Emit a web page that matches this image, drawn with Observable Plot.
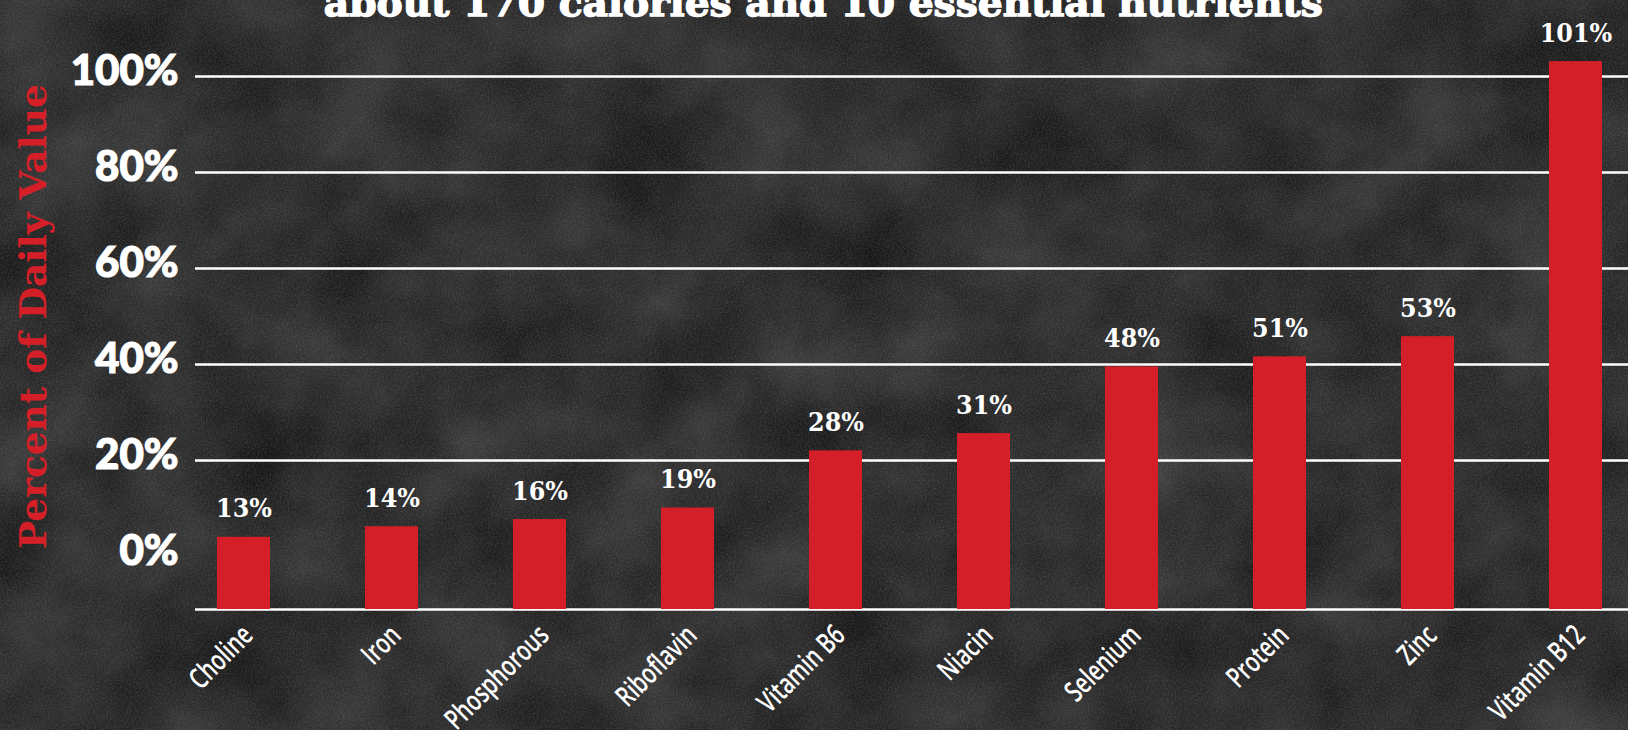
<!DOCTYPE html>
<html><head><meta charset="utf-8">
<script src="https://cdn.jsdelivr.net/npm/d3@7"></script>
<script src="https://cdn.jsdelivr.net/npm/@observablehq/plot@0.6"></script>
<style>
html,body{margin:0;padding:0;width:1628px;height:730px;overflow:hidden;background:#2a2a2a;}
#bg{position:absolute;left:0;top:0;width:1628px;height:730px;}
#chart{position:absolute;left:0;top:0;}
#title{position:absolute;left:0;top:-16px;width:1628px;text-align:center;font-family:"DejaVu Serif";font-weight:bold;font-size:38px;line-height:38px;color:#fff;white-space:nowrap;-webkit-text-stroke:1.4px #fff;}
#title span{display:inline-block;transform-origin:50% 50%;}
</style></head><body>
<div id="bg"></div>
<div id="chart"></div>
<div id="title"><span></span></div>
<script>
const title = "about 170 calories and 10 essential nutrients";
const yTitle = "Percent of Daily Value";
const nutrients = ["Choline","Iron","Phosphorous","Riboflavin","Vitamin B6","Niacin","Selenium","Protein","Zinc","Vitamin B12"];
const valueLabels = ["13%","14%","16%","19%","28%","31%","48%","51%","53%","101%"];
// bar tops as read against the printed percentage axis
const barTops = [4.0, 6.2, 7.7, 10.1, 22.0, 25.6, 39.5, 41.6, 45.8, 103.1];
// bars and the bottom rule sit below the printed 0% label
const barBase = -11.04;
const yTicks = [0, 20, 40, 60, 80, 100];
const gridTicks = [20, 40, 60, 80, 100];

// background stone texture (inline SVG noise, no network)
const noiseSvg = `<svg xmlns='http://www.w3.org/2000/svg' width='1628' height='730'>
<filter id='a' x='0' y='0' width='100%' height='100%' color-interpolation-filters='sRGB'><feTurbulence type='fractalNoise' baseFrequency='0.01' numOctaves='7' seed='11'/>
<feColorMatrix type='matrix' values='0.2 0 0 0 0.068 0.2 0 0 0 0.068 0.2 0 0 0 0.068 0 0 0 0 1'/></filter>
<filter id='b' x='0' y='0' width='100%' height='100%' color-interpolation-filters='sRGB'><feTurbulence type='fractalNoise' baseFrequency='0.6' numOctaves='3' seed='3'/>
<feColorMatrix type='matrix' values='0 0 0 0 0.55 0 0 0 0 0.55 0 0 0 0 0.55 0.45 0 0 0 -0.16'/></filter>
<rect width='1628' height='730' filter='url(#a)'/>
<rect width='1628' height='730' filter='url(#b)'/>
</svg>`;
document.getElementById("bg").style.backgroundImage =
  `url("data:image/svg+xml,${encodeURIComponent(noiseSvg)}")`;

const data = nutrients.map((n, i) => ({nutrient: n, top: barTops[i], label: valueLabels[i]}));
const red = "#d51f28";

const chart = Plot.plot({
  width: 1628,
  height: 730,
  marginLeft: 195,
  marginRight: 0,
  marginTop: 0,
  marginBottom: 121,
  style: {background: "transparent", overflow: "visible", color: "#fff"},
  x: {type: "band", domain: nutrients, range: [195, 1624], paddingInner: 0.642, paddingOuter: 0.1417, axis: null},
  y: {domain: [barBase, 115.83], axis: null},
  marks: [
    Plot.gridY(gridTicks, {stroke: "#fff", strokeOpacity: 1, strokeWidth: 2.5}),
    Plot.ruleY([barBase], {stroke: "#fff", strokeWidth: 2.5}),
    Plot.barY(data, {x: "nutrient", y1: barBase, y2: "top", fill: red}),
    Plot.axisY(yTicks, {anchor: "left", tickSize: 0, tickPadding: 17, tickFormat: d => d + "%",
      fontSize: 42, fontWeight: 900, fontFamily: "Lato", color: "#fff", dy: -5, label: null}),
    Plot.text(data, {x: "nutrient", y: "top", text: "label", dy: -20, lineAnchor: "bottom",
      fill: "#fff", fontSize: 26.5, fontWeight: "bold", fontFamily: "DejaVu Serif Condensed"}),
    Plot.text(data, {x: "nutrient", y: barBase, text: "nutrient", rotate: -45, textAnchor: "end", lineAnchor: "top",
      dx: -4, dy: 13, fill: "#fff", fontSize: 29, fontWeight: 600, fontFamily: "Open Sans"}),
    Plot.text([yTitle], {frameAnchor: "left", dx: -150, dy: 11.5, rotate: -90, lineAnchor: "bottom", textAnchor: "middle",
      fill: red, fontSize: 37.5, fontWeight: "bold", fontFamily: "DejaVu Serif"})
  ]
});
// condensed look for the category labels, heavier tick labels
const tickTexts = yTicks.map(d => d + "%");
d3.select(chart).selectAll("text").each(function() {
  const s = this.textContent;
  if (nutrients.includes(s)) {
    const t = this.getAttribute("transform") || "";
    this.setAttribute("transform", t + " scale(0.72,1)");
  } else if (tickTexts.includes(s)) {
    this.setAttribute("stroke", "#fff");
    this.setAttribute("stroke-width", "1.2");
    this.style.paintOrder = "stroke";
  }
});
document.getElementById("chart").appendChild(chart);

const span = document.querySelector("#title span");
span.textContent = title;
const w = span.getBoundingClientRect().width;
span.style.transform = `translateX(${823.5 - 814}px) scaleX(${999 / w})`;
</script>
</body></html>
